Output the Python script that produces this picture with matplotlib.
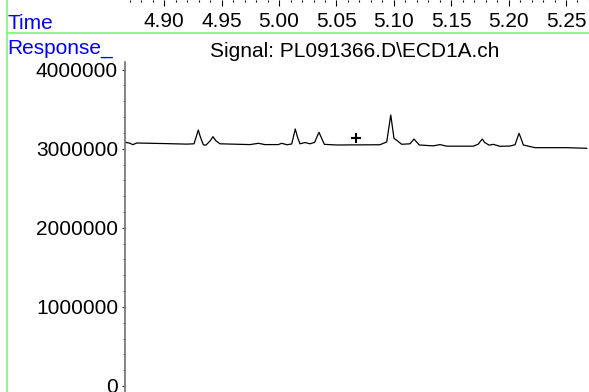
import matplotlib
matplotlib.use('Agg')
import matplotlib.pyplot as plt
from matplotlib.lines import Line2D
from matplotlib.ticker import MultipleLocator

plt.rcParams['font.family'] = ['Liberation Sans', 'DejaVu Sans']

# trace (time in min, response in millions)
time = [4.8658, 4.8700, 4.8725, 4.8760, 4.9000, 4.9195, 4.9259, 4.9278, 4.9296,
        4.9314, 4.9340, 4.9363, 4.9400, 4.9424, 4.9450, 4.9485, 4.9747, 4.9819,
        4.9877, 4.9993, 5.0023, 5.0070, 5.0110, 5.0125, 5.0141, 5.0160, 5.0182,
        5.0226, 5.0270, 5.0310, 5.0330, 5.0348, 5.0365, 5.0395, 5.0502, 5.0879,
        5.0938, 5.0955, 5.0973, 5.0990, 5.1001, 5.1030, 5.1068, 5.1141, 5.1160,
        5.1176, 5.1195, 5.1222, 5.1344, 5.1402, 5.1461, 5.1692, 5.1736, 5.1755,
        5.1771, 5.1790, 5.1830, 5.1867, 5.1925, 5.2012, 5.2056, 5.2075, 5.2091,
        5.2108, 5.2128, 5.2230, 5.2506, 5.2680]
response = [3.081, 3.070, 3.051, 3.072, 3.065, 3.058, 3.062, 3.150, 3.236,
            3.150, 3.050, 3.045, 3.100, 3.152, 3.100, 3.062, 3.052, 3.068,
            3.052, 3.052, 3.068, 3.050, 3.060, 3.150, 3.249, 3.150, 3.062,
            3.078, 3.062, 3.080, 3.150, 3.207, 3.150, 3.055, 3.047, 3.050,
            3.085, 3.250, 3.426, 3.250, 3.131, 3.101, 3.056, 3.062, 3.095,
            3.122, 3.090, 3.047, 3.036, 3.052, 3.032, 3.032, 3.058, 3.095,
            3.122, 3.080, 3.045, 3.055, 3.030, 3.034, 3.050, 3.130, 3.195,
            3.130, 3.047, 3.013, 3.013, 3.005]
cursor_time = 5.0670
cursor_resp = 3.139

y_ticks = [0, 1000000, 2000000, 3000000, 4000000]
y_tick_labels = ['0', '1000000', '2000000', '3000000', '4000000']
x_ticks = [4.90, 4.95, 5.00, 5.05, 5.10, 5.15, 5.20, 5.25]
x_tick_labels = ['4.90', '4.95', '5.00', '5.05', '5.10', '5.15', '5.20', '5.25']

W, H = 589, 392
fig = plt.figure(figsize=(W / 100, H / 100), dpi=100)
fs = 15
xlim = (4.86576, 5.27004)

# main plot
ax = fig.add_axes([125 / W, 0, 464 / W, (H - 61.7) / H])
ax.plot(time, [r * 1e6 for r in response], color='black', lw=0.9)
ax.plot([cursor_time], [cursor_resp * 1e6], marker='+', color='black',
        markersize=7, mew=1.5, ls='none')
ax.set_xlim(*xlim)
ax.set_ylim(-0.076e6, 4.10e6)
for s in ['top', 'right', 'bottom']:
    ax.spines[s].set_visible(False)
ax.spines['left'].set_color('#707070')
ax.spines['left'].set_linewidth(1.2)
ax.set_xticks([])
ax.set_yticks(y_ticks)
ax.set_yticklabels(y_tick_labels)
ax.yaxis.set_minor_locator(MultipleLocator(200000))
ax.tick_params(axis='y', which='major', length=2.5, width=0.8, color='#404040',
               labelsize=fs, pad=2.5)
ax.tick_params(axis='y', which='minor', length=1.5, width=0.7, color='#606060')
ax.set_facecolor('none')

# time scale along the top edge
axt = fig.add_axes([125 / W, 1.0, 464 / W, 0.001])
axt.set_xlim(*xlim)
for s in axt.spines.values():
    s.set_visible(False)
axt.set_yticks([])
axt.set_xticks(x_ticks)
axt.set_xticklabels(x_tick_labels)
axt.xaxis.set_minor_locator(MultipleLocator(0.01))
axt.tick_params(axis='x', which='major', direction='out', length=4.6, width=0.8,
                labelsize=fs, pad=4.0)
axt.tick_params(axis='x', which='minor', direction='out', length=1.3, width=0.8)

# frame lines
green = '#70ff70'
fig.add_artist(Line2D([6.7 / W, 6.7 / W], [0, 1], color=green, lw=1.2))
fig.add_artist(Line2D([6.7 / W, 1], [1 - 33.3 / H, 1 - 33.3 / H], color=green, lw=1.2))

fig.text(7.5 / W, 1 - 29.3 / H, 'Time', color='blue', fontsize=fs, va='baseline')
fig.text(7.5 / W, 1 - 53.5 / H, 'Response_', color='blue', fontsize=fs, va='baseline')
fig.text(355 / W, 1 - 57 / H, 'Signal: PL091366.D\\ECD1A.ch', color='black',
         fontsize=fs, ha='center', va='baseline')

fig.savefig('out.png', dpi=100)
